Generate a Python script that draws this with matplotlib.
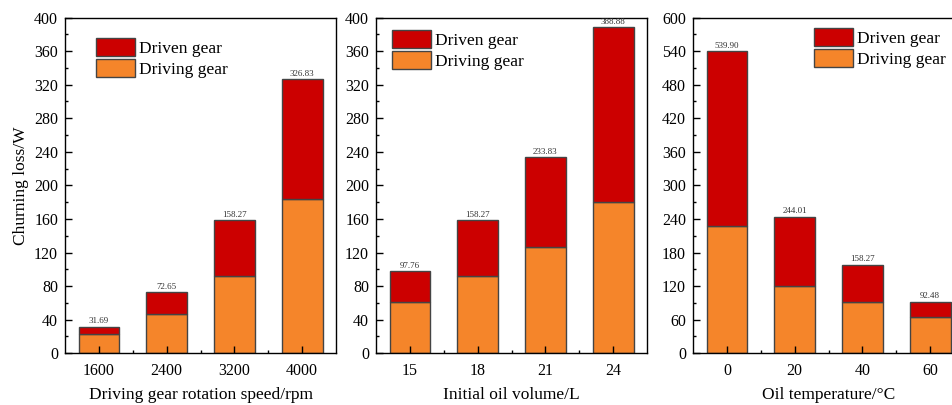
import matplotlib.pyplot as plt
import numpy as np
from matplotlib.ticker import AutoMinorLocator, FixedLocator

plt.rcParams["font.family"] = ["Liberation Serif", "DejaVu Serif"]

# panel data
speed_labels = ["1600", "2400", "3200", "4000"]
speed_driving = [22.6, 46.8, 91.6, 183.3]
speed_total = [31.69, 72.65, 158.27, 326.83]

volume_labels = ["15", "18", "21", "24"]
volume_driving = [60.7, 91.6, 126.5, 180.5]
volume_total = [97.76, 158.27, 233.83, 388.88]

temp_labels = ["0", "20", "40", "60"]
temp_driving = [227.9, 119.6, 91.0, 64.3]
temp_total = [539.90, 244.01, 158.27, 92.48]

DRIVEN = "#cc0000"
DRIVING = "#f5852a"
EDGE = "#444444"

# (labels, driving, total, xlabel, ymax, ystep, axes left, legend top-left in px)
panels = [
    (speed_labels, speed_driving, speed_total, "Driving gear rotation speed/rpm", 400, 40, 0.0683, (96, 38)),
    (volume_labels, volume_driving, volume_total, "Initial oil volume/L", 400, 40, 0.395, (392, 30)),
    (temp_labels, temp_driving, temp_total, "Oil temperature/°C", 600, 60, 0.728, (814, 28)),
]

fig = plt.figure(figsize=(9.52, 4.05), dpi=100)
W, H = 0.2847, 0.829

for i, (labels, driving, total, xlabel, ymax, ystep, left, legpx) in enumerate(panels):
    ax = fig.add_axes([left, 0.1277, W, H])
    ax.set_axisbelow(False)
    x = np.arange(len(labels))
    driving = np.array(driving)
    total = np.array(total)
    driven = total - driving
    ax.bar(x, driving, width=0.6, color=DRIVING, edgecolor=EDGE, linewidth=1.0,
           label="Driving gear", zorder=2)
    ax.bar(x, driven, width=0.6, bottom=driving, color=DRIVEN, edgecolor=EDGE,
           linewidth=1.0, label="Driven gear", zorder=2)
    for xi, t in zip(x, total):
        ax.text(xi, t + ymax * 0.004, f"{t:.2f}", ha="center", va="bottom",
                fontsize=6.5, color="#333333")
    ax.set_xlim(-0.5, 3.5)
    ax.set_ylim(0, ymax)
    ax.set_yticks(np.arange(0, ymax + 1, ystep))
    ax.yaxis.set_minor_locator(AutoMinorLocator(2))
    ax.set_xticks(x)
    ax.set_xticklabels(labels)
    ax.xaxis.set_minor_locator(FixedLocator(x[:-1] + 0.5))
    ax.tick_params(axis="both", which="major", direction="in", length=5, width=1,
                   labelsize=11.5, pad=5)
    ax.tick_params(axis="both", which="minor", direction="in", length=2.5, width=1)
    ax.tick_params(axis="x", which="major", pad=7)
    ax.set_xlabel(xlabel, fontsize=12.5, labelpad=6)
    for s in ax.spines.values():
        s.set_linewidth(1.0)
    if i == 0:
        ax.set_ylabel("Churning loss/W", fontsize=12.5, labelpad=4)
    h, l = ax.get_legend_handles_labels()
    ax.legend(h[::-1], l[::-1], loc="upper left",
              bbox_to_anchor=(legpx[0] / 952, 1 - legpx[1] / 405),
              bbox_transform=fig.transFigure,
              frameon=False, fontsize=12.5, handlelength=2.25, handleheight=1.2,
              labelspacing=0.15, handletextpad=0.25, borderpad=0, borderaxespad=0)

fig.savefig("out.png", dpi=100)
